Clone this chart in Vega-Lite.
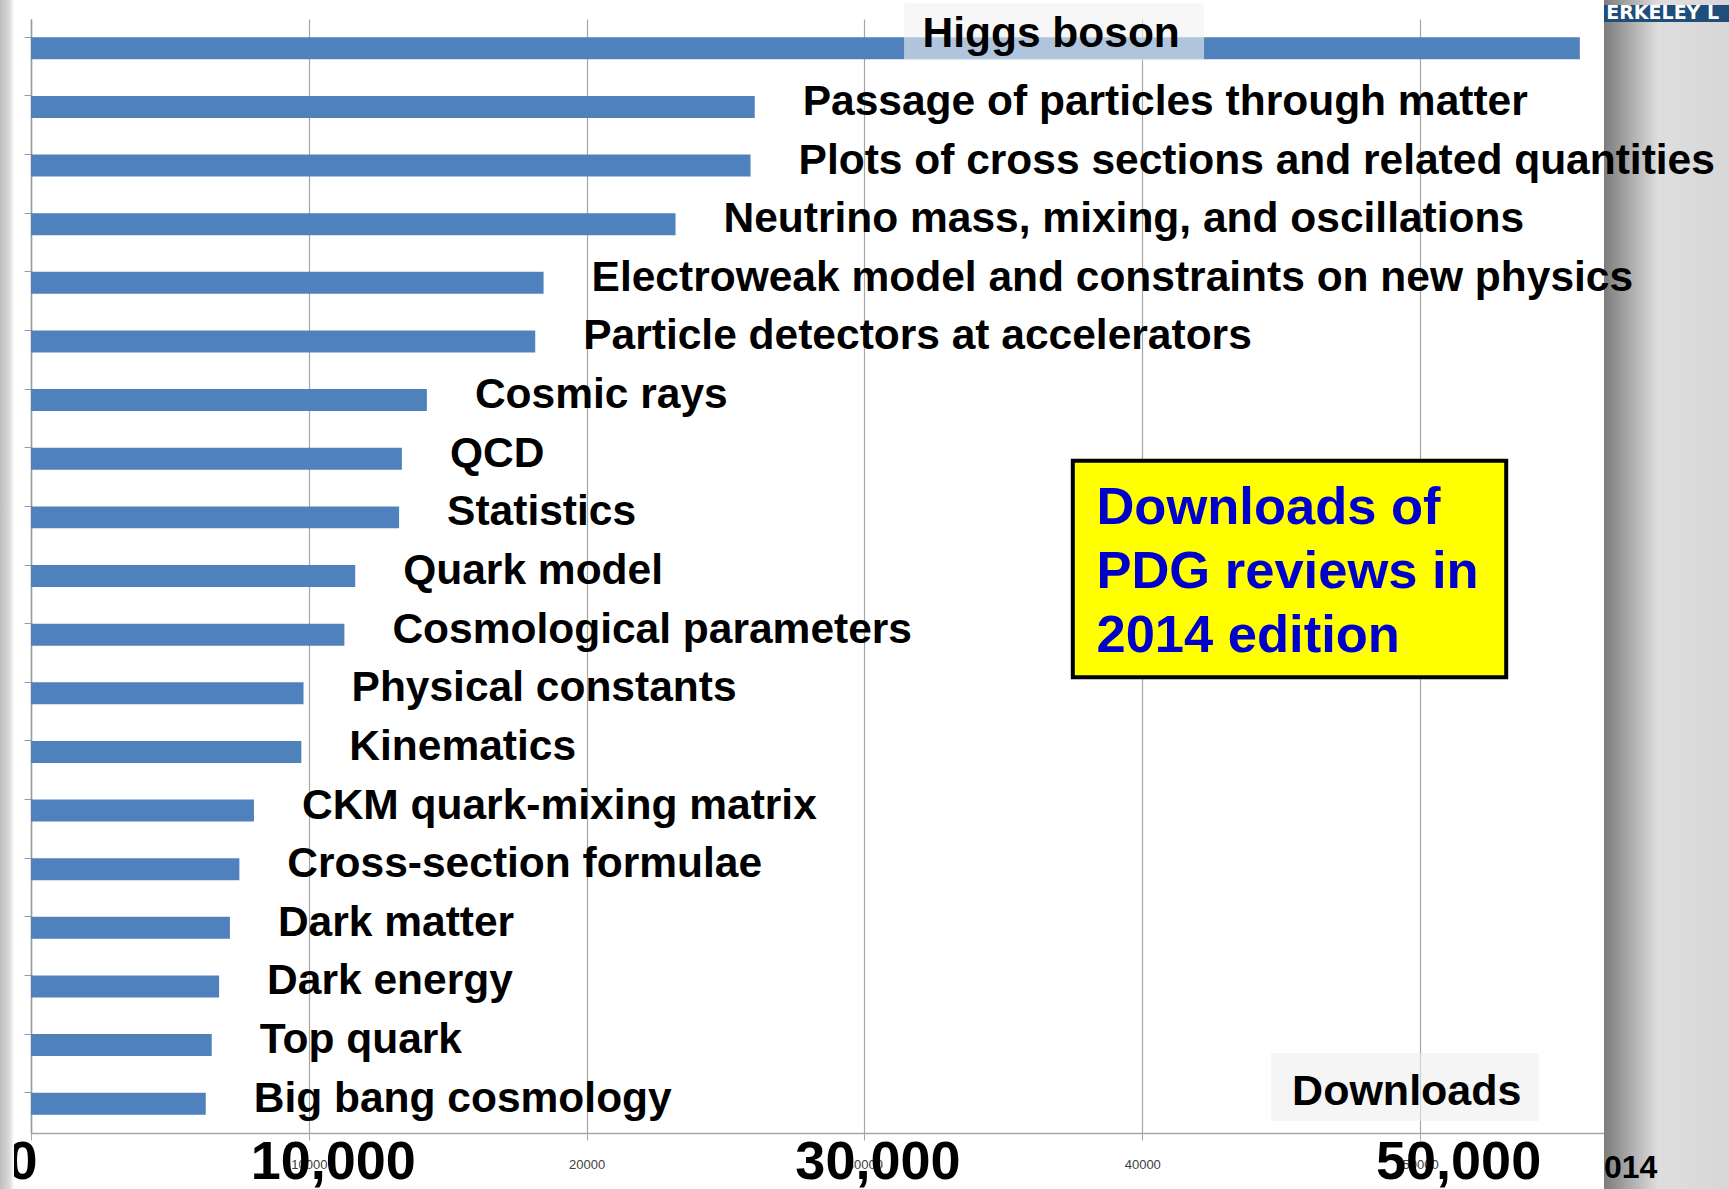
{
  "$schema": "https://vega.github.io/schema/vega-lite/v6.json",
  "width": 1573,
  "height": 1114,
  "autosize": {"type": "none"},
  "padding": {"left": 31, "top": 19, "right": 125, "bottom": 56},
  "background": "#ffffff",
  "config": {"view": {"stroke": null}, "font": "Liberation Sans"},
  "datasets": {
    "reviews": [
      {"review": "Higgs boson", "downloads": 55750},
      {"review": "Passage of particles through matter", "downloads": 26050},
      {"review": "Plots of cross sections and related quantities", "downloads": 25900},
      {"review": "Neutrino mass, mixing, and oscillations", "downloads": 23200},
      {"review": "Electroweak model and constraints on new physics", "downloads": 18450},
      {"review": "Particle detectors at accelerators", "downloads": 18150},
      {"review": "Cosmic rays", "downloads": 14250},
      {"review": "QCD", "downloads": 13350},
      {"review": "Statistics", "downloads": 13250},
      {"review": "Quark model", "downloads": 11670},
      {"review": "Cosmological parameters", "downloads": 11280},
      {"review": "Physical constants", "downloads": 9810},
      {"review": "Kinematics", "downloads": 9730},
      {"review": "CKM quark-mixing matrix", "downloads": 8025},
      {"review": "Cross-section formulae", "downloads": 7500},
      {"review": "Dark matter", "downloads": 7160},
      {"review": "Dark energy", "downloads": 6770},
      {"review": "Top quark", "downloads": 6505},
      {"review": "Big bang cosmology", "downloads": 6290}
    ]
  },
  "layer": [
    {
      "data": {"name": "reviews"},
      "mark": {"type": "bar", "color": "#4F81BD"},
      "encoding": {
        "y": {
          "field": "review", "type": "nominal", "sort": null,
          "scale": {"paddingInner": 0.625, "paddingOuter": 0.3125},
          "axis": {"labels": false, "title": null, "bandPosition": 0, "tickSize": 7, "tickColor": "#9a9a9a", "domainColor": "#9a9a9a", "domainWidth": 1.5, "grid": false}
        },
        "x": {
          "field": "downloads", "type": "quantitative",
          "scale": {"domain": [0, 56620], "nice": false, "zero": true},
          "axis": {"orient": "bottom", "values": [0, 10000, 20000, 30000, 40000, 50000], "format": "d", "grid": true, "gridColor": "#a6a6a6", "gridWidth": 1.2, "domainColor": "#a6a6a6", "domainWidth": 1.5, "tickColor": "#a6a6a6", "tickSize": 7, "labelFontSize": 13, "labelColor": "#404040", "labelPadding": 18, "labelOverlap": false, "labelFlush": false, "title": null}
        }
      }
    },
    {
      "data": {"values": [{}]},
      "layer": [
        {
          "mark": {"type": "rect", "fill": {"gradient": "linear", "x1": 0, "x2": 1, "y1": 0, "y2": 0, "stops": [{"offset": 0, "color": "#7c7c7c"}, {"offset": 0.4, "color": "#dedede"}, {"offset": 1, "color": "#d6d6d6"}]}},
          "encoding": {
            "x": {"datum": 56620, "type": "quantitative", "axis": null},
            "x2": {"datum": 61500},
            "y": {"datum": 1.03, "type": "quantitative", "scale": {"domain": [0, 1], "nice": false, "zero": false}, "axis": null},
            "y2": {"datum": -0.06}
          }
        },
        {
          "mark": {"type": "rect", "fill": {"gradient": "linear", "x1": 0, "x2": 1, "y1": 0, "y2": 0, "stops": [{"offset": 0, "color": "#bdbdbd"}, {"offset": 0.7, "color": "#dcdcdc"}, {"offset": 1, "color": "#ffffff"}]}},
          "encoding": {
            "x": {"datum": -1116, "type": "quantitative", "axis": null},
            "x2": {"datum": -612},
            "y": {"datum": 1.03, "type": "quantitative", "axis": null},
            "y2": {"datum": -0.06}
          }
        },
        {
          "mark": {"type": "rect", "fill": "#1f4e7a"},
          "encoding": {
            "x": {"datum": 56620, "type": "quantitative", "axis": null},
            "x2": {"datum": 61500},
            "y": {"datum": 1.0126, "type": "quantitative", "axis": null},
            "y2": {"datum": 0.9973}
          }
        },
        {
          "mark": {"type": "text", "text": "ERKELEY L", "align": "left", "baseline": "middle", "font": "DejaVu Sans", "fontWeight": "bold", "fontSize": 19, "color": "#ffffff"},
          "encoding": {
            "x": {"datum": 56700, "type": "quantitative", "axis": null},
            "y": {"datum": 1.0054, "type": "quantitative", "axis": null}
          }
        },
        {
          "mark": {"type": "text", "text": "014", "align": "left", "baseline": "alphabetic", "fontWeight": "bold", "fontSize": 32, "color": "#000000"},
          "encoding": {
            "x": {"datum": 56620, "type": "quantitative", "axis": null},
            "y": {"datum": -0.0404, "type": "quantitative", "axis": null}
          }
        },
        {
          "mark": {"type": "rect", "fill": "#f2f2f2", "opacity": 0.6},
          "encoding": {
            "x": {"datum": 31426, "type": "quantitative", "axis": null},
            "x2": {"datum": 42225},
            "y": {"datum": 1.0141, "type": "quantitative", "axis": null},
            "y2": {"datum": 0.9627}
          }
        },
        {
          "mark": {"type": "rect", "fill": "#eeeeee", "opacity": 0.6},
          "encoding": {
            "x": {"datum": 44636, "type": "quantitative", "axis": null},
            "x2": {"datum": 54284},
            "y": {"datum": 0.0718, "type": "quantitative", "axis": null},
            "y2": {"datum": 0.0108}
          }
        },
        {
          "mark": {"type": "text", "text": "Downloads", "align": "left", "baseline": "alphabetic", "fontWeight": "bold", "fontSize": 43, "color": "#000000"},
          "encoding": {
            "x": {"datum": 45393, "type": "quantitative", "axis": null},
            "y": {"datum": 0.0251, "type": "quantitative", "axis": null}
          }
        },
        {
          "mark": {"type": "rect", "fill": "#ffff00", "stroke": "#000000", "strokeWidth": 4},
          "encoding": {
            "x": {"datum": 37500, "type": "quantitative", "axis": null},
            "x2": {"datum": 53100},
            "y": {"datum": 0.6034, "type": "quantitative", "axis": null},
            "y2": {"datum": 0.4092}
          }
        },
        {
          "mark": {"type": "text", "text": ["Downloads of", "PDG reviews in", "2014 edition"], "align": "left", "baseline": "alphabetic", "lineHeight": 64, "fontWeight": "bold", "fontSize": 52.5, "color": "#0000cc"},
          "encoding": {
            "x": {"datum": 38350, "type": "quantitative", "axis": null},
            "y": {"datum": 0.5468, "type": "quantitative", "axis": null}
          }
        }
      ]
    },
    {
      "data": {"name": "reviews"},
      "layer": [
        {
          "transform": [{"filter": "datum.downloads < 50000"}],
          "mark": {"type": "text", "align": "left", "baseline": "middle", "dx": 48, "dy": -5, "fontSize": 42.5, "fontWeight": "bold", "color": "#000000"},
          "encoding": {
            "y": {"field": "review", "type": "nominal", "axis": null,
              "scale": {"domain": ["Higgs boson", "Passage of particles through matter", "Plots of cross sections and related quantities", "Neutrino mass, mixing, and oscillations", "Electroweak model and constraints on new physics", "Particle detectors at accelerators", "Cosmic rays", "QCD", "Statistics", "Quark model", "Cosmological parameters", "Physical constants", "Kinematics", "CKM quark-mixing matrix", "Cross-section formulae", "Dark matter", "Dark energy", "Top quark", "Big bang cosmology"], "paddingInner": 0.625, "paddingOuter": 0.3125}},
            "x": {"field": "downloads", "type": "quantitative",
              "axis": {"orient": "bottom", "values": [0, 10000, 30000, 50000], "format": ",d", "grid": false, "ticks": false, "tickSize": 0, "domain": false, "labelFontSize": 54, "labelFontWeight": "bold", "labelColor": "#000000", "labelPadding": 2, "labelFlush": false, "labelOverlap": false, "title": null,
                "labelOffset": {"condition": [{"test": "datum.value === 0", "value": -9}, {"test": "datum.value === 10000", "value": 24}, {"test": "datum.value === 30000", "value": 13}], "value": 38}}},
            "text": {"field": "review"}
          }
        },
        {
          "transform": [{"filter": "datum.downloads >= 50000"}],
          "mark": {"type": "text", "align": "right", "baseline": "middle", "dx": -400, "dy": -14, "fontSize": 42.5, "fontWeight": "bold", "color": "#000000"},
          "encoding": {
            "y": {"field": "review", "type": "nominal", "axis": null},
            "x": {"field": "downloads", "type": "quantitative"},
            "text": {"field": "review"}
          }
        }
      ]
    }
  ],
  "resolve": {"scale": {"y": "independent"}, "axis": {"x": "independent", "y": "independent"}}
}
